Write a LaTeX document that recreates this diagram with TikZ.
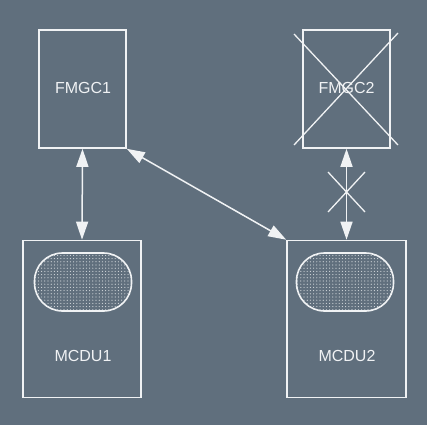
\documentclass[tikz,border=0pt]{standalone}
\usepackage{fontspec}
\setmainfont{Liberation Sans}
\usetikzlibrary{arrows.meta,patterns.meta}
\definecolor{panelbg}{RGB}{96,111,125}
\definecolor{ink}{RGB}{240,242,244}
\tikzset{%
	unit/.style     = {draw=ink, line width=1.6pt, rectangle, inner sep=0pt}, % Box
	screen/.style   = {draw=ink, line width=1.6pt, rectangle, rounded corners=28pt,
		minimum width=97pt, minimum height=58pt,
		pattern={Dots[radius=0.6pt, distance=3.2pt]}, pattern color=ink!80!panelbg},
	tag/.style      = {text=ink, font=\fontsize{16}{18}\selectfont}, % Label
	link/.style     = {draw=ink, line width=1.5pt,
		{Triangle[length=18pt, width=12pt]}-{Triangle[length=18pt, width=12pt]}},
	strike/.style   = {draw=ink, line width=1.3pt}
}
\begin{document}
\begin{tikzpicture}[x=1pt,y=-1pt]
			\fill[panelbg] (0,0) rectangle (427,425);
			\useasboundingbox (0,0) rectangle (427,425);

			\node[unit, minimum width=87pt, minimum height=118pt] (fmgcA) at (82.5,89) {};
			\node[unit, minimum width=87pt, minimum height=118pt] (fmgcB) at (346.5,89) {};
			\node[unit, minimum width=118pt, minimum height=157pt] (mcduA) at (82,319) {};
			\node[unit, minimum width=119pt, minimum height=157pt] (mcduB) at (346.5,319) {};

			\node[tag] (fmgcAtxt) at (83,88) {FMGC1};
			\node[tag] (fmgcBtxt) at (346.5,88) {FMGC2};

			\node[screen] (scrA) at (83,282) {};
			\node[screen] (scrB) at (345,282) {};
			\node[tag] (mcduAtxt) at (83,356) {MCDU1};
			\node[tag] (mcduBtxt) at (347,356) {MCDU2};

			\draw[link] (fmgcA.south) -- (mcduA.north);
			\draw[link] (fmgcB.south) -- (mcduB.north);
			\draw[link] (fmgcA.south east) -- (mcduB.north west);

			% FMGC2 out of service
			\coordinate (xa) at (294,34);
			\coordinate (xb) at (398,145);
			\coordinate (xc) at (398,33);
			\coordinate (xd) at (294,145);
			\draw[strike] (xa) -- (xb);
			\draw[strike] (xc) -- (xd);

			% lost link
			\coordinate (la) at (328,172);
			\coordinate (lb) at (365,212);
			\coordinate (lc) at (365,172);
			\coordinate (ld) at (328,212);
			\draw[strike] (la) -- (lb);
			\draw[strike] (lc) -- (ld);
		\end{tikzpicture}
\end{document}
